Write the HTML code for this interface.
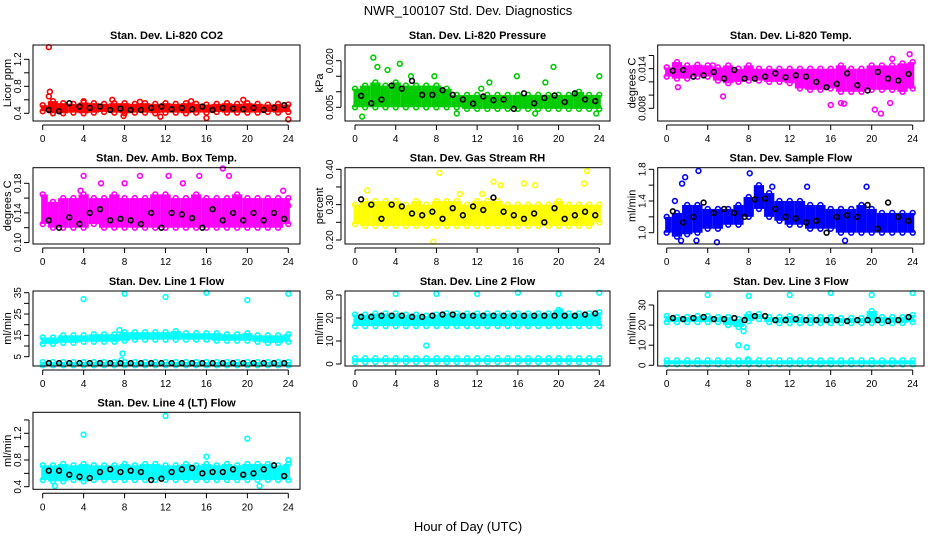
<!DOCTYPE html>
<html><head><meta charset="utf-8"><style>
body{margin:0;background:#fff;}
svg{display:block;font-family:"Liberation Sans",Arial,sans-serif;}
</style></head><body>
<svg id="c" width="936" height="540" viewBox="0 0 936 540">
<text x="468" y="15" text-anchor="middle" font-size="13">NWR_100107  Std. Dev. Diagnostics</text>
<text x="468" y="531" text-anchor="middle" font-size="13">Hour of Day (UTC)</text>
</svg>
<script>
const hours=[0,1,2,3,4,5,6,7,8,9,10,11,12,13,14,15,16,17,18,19,20,21,22,23,24];
const xTicks=[0,4,8,12,16,20,24];
// P1 CO2
const co2Upper=[0.52,0.58,0.55,0.54,0.56,0.55,0.54,0.55,0.55,0.54,0.55,0.54,0.55,0.54,0.55,0.54,0.53,0.54,0.55,0.54,0.55,0.54,0.53,0.54,0.53];
const co2Lower=[0.43,0.40,0.40,0.41,0.40,0.41,0.42,0.41,0.40,0.41,0.41,0.40,0.41,0.41,0.40,0.41,0.41,0.42,0.41,0.41,0.41,0.41,0.42,0.41,0.42];
const co2Black=[0.45,0.43,0.55,0.50,0.48,0.50,0.45,0.47,0.45,0.45,0.48,0.50,0.46,0.48,0.46,0.50,0.45,0.48,0.47,0.46,0.48,0.45,0.48,0.52];
const co2OutH=[0.6,0.7,0.6,4,6.8,9.5,14.5,16,19.6,24,11.5,7.9];
const co2OutV=[1.38,0.72,0.65,0.58,0.6,0.57,0.58,0.33,0.6,0.31,0.35,0.36];
// P2 pressure
const prUpper=[0.011,0.012,0.013,0.012,0.013,0.012,0.012,0.012,0.012,0.011,0.009,0.009,0.009,0.009,0.009,0.009,0.009,0.009,0.009,0.009,0.009,0.009,0.010,0.009,0.009];
const prLower=[0.005,0.005,0.005,0.005,0.005,0.005,0.005,0.005,0.005,0.005,0.005,0.0045,0.0045,0.0045,0.0045,0.0045,0.0045,0.0045,0.0045,0.0045,0.0045,0.0045,0.0045,0.0045,0.0045];
const prBlack=[0.0087,0.0063,0.0075,0.012,0.011,0.0135,0.009,0.009,0.0105,0.009,0.0075,0.0062,0.0085,0.0073,0.0075,0.0045,0.0095,0.0063,0.008,0.0088,0.0067,0.0095,0.0075,0.007];
const prOutH=[0.7,1.8,2.2,3.2,4.4,7.8,12.4,13.2,15.9,17.7,18.7,19.5,24,23.7,10,5.5];
const prOutV=[0.002,0.021,0.018,0.017,0.019,0.015,0.011,0.013,0.015,0.003,0.013,0.018,0.015,0.003,0.003,0.015];
// P3 temp
const tpUpper=[0.0142,0.0150,0.0145,0.0146,0.0145,0.0142,0.0145,0.0140,0.0145,0.0140,0.0140,0.0140,0.0140,0.0140,0.0140,0.0140,0.0140,0.0145,0.0140,0.0140,0.0145,0.0145,0.0145,0.0148,0.0150];
const tpLower=[0.0128,0.0125,0.0125,0.0128,0.0128,0.0122,0.0118,0.0120,0.0122,0.0122,0.0120,0.0120,0.0118,0.0110,0.0108,0.0108,0.0110,0.0105,0.0105,0.0105,0.0108,0.0108,0.0108,0.0105,0.0110];
const tpBlack=[0.0137,0.0138,0.0128,0.0130,0.0135,0.0125,0.0138,0.0125,0.0125,0.0128,0.0133,0.0127,0.0130,0.0128,0.0120,0.0112,0.0117,0.0133,0.0115,0.0107,0.0135,0.0125,0.0122,0.0132];
const tpOutH=[1.1,4.5,5.5,16,17,20.3,20.9,21.8,23.7,22,17.3,12.2];
const tpOutV=[0.0112,0.0145,0.0098,0.0085,0.0088,0.0078,0.0072,0.0088,0.0162,0.0155,0.0087,0.0128];
// P4 amb box temp
const abUpper=[0.165,0.155,0.16,0.16,0.165,0.16,0.16,0.165,0.16,0.16,0.16,0.165,0.165,0.16,0.16,0.165,0.16,0.16,0.16,0.165,0.16,0.16,0.16,0.16,0.16];
const abLower=[0.125,0.12,0.12,0.12,0.12,0.125,0.12,0.12,0.12,0.12,0.12,0.12,0.12,0.12,0.12,0.12,0.12,0.12,0.12,0.12,0.12,0.12,0.12,0.12,0.125];
const abBlack=[0.13,0.12,0.134,0.125,0.14,0.145,0.13,0.132,0.13,0.125,0.14,0.12,0.14,0.138,0.133,0.12,0.145,0.13,0.14,0.13,0.14,0.13,0.14,0.132];
const abOutH=[4,8,9.5,15.3,17.6,18.2,5.7,24,12.3,3.7,13.7,23.5];
const abOutV=[0.19,0.18,0.19,0.19,0.2,0.19,0.18,0.15,0.19,0.17,0.18,0.17];
// P5 RH
const rhUpper=[0.30,0.31,0.31,0.31,0.31,0.30,0.31,0.30,0.31,0.31,0.31,0.30,0.31,0.31,0.31,0.30,0.30,0.30,0.30,0.30,0.31,0.30,0.30,0.30,0.30];
const rhLower=[0.245,0.24,0.24,0.24,0.24,0.24,0.24,0.24,0.24,0.24,0.24,0.24,0.24,0.24,0.24,0.24,0.24,0.24,0.24,0.24,0.24,0.24,0.24,0.24,0.25];
const rhBlack=[0.315,0.30,0.26,0.30,0.295,0.275,0.27,0.28,0.26,0.29,0.27,0.295,0.285,0.32,0.28,0.27,0.26,0.275,0.25,0.29,0.26,0.27,0.28,0.27];
const rhOutH=[8.3,13.6,16.6,17.7,22.8,22.5,7.7,1.2,10.3,14.3,12.5];
const rhOutV=[0.39,0.365,0.36,0.355,0.395,0.36,0.195,0.34,0.33,0.355,0.33];
// P6 sample flow
const sfUpper=[1.2,1.25,1.35,1.35,1.3,1.3,1.3,1.35,1.45,1.6,1.5,1.4,1.4,1.4,1.35,1.35,1.3,1.3,1.3,1.35,1.3,1.25,1.25,1.25,1.25];
const sfLower=[1.0,0.95,0.98,1.0,1.05,1.05,1.1,1.1,1.2,1.3,1.2,1.15,1.1,1.1,1.05,1.05,1.05,1.0,1.0,1.0,1.0,1.0,1.0,1.0,1.0];
const sfBlack=[1.27,1.13,1.2,1.38,1.25,1.3,1.25,1.2,1.42,1.43,1.3,1.2,1.18,1.13,1.15,1.0,1.2,1.22,1.2,1.35,1.05,1.38,1.2,1.15];
const sfOutH=[1.5,1.8,3.1,2.9,4.9,8.1,13.7,17.4,19.5,10.3,1.4,0.8];
const sfOutV=[1.62,1.7,1.78,0.9,0.88,1.75,1.58,0.9,1.58,1.58,0.9,1.4];
// P7 line 1
const l1Upper=[14,14,15,15,15,15.5,15.5,15.5,16.5,16.5,16.5,16.5,16.5,17,16,16,16,16,15.5,15.5,16,15,15,15,15.5];
const l1Lower=[11,11,11.5,11.5,12,12,12,12,12.5,13,13,13,13,13,13,13,13,12.5,12.5,12.5,12.5,12,11.5,11.5,12];
const l1BaseUpper=[2.5,2.5,2.5,2.5,2.5,2.5,2.5,2.5,2.5,2.5,2.5,2.5,2.5,2.5,2.5,2.5,2.5,2.5,2.5,2.5,2.5,2.5,2.5,2.5,2.5];
const l1BaseLower=[1,1,1,1,1,1,1,1,1,1,1,1,1,1,1,1,1,1,1,1,1,1,1,1,1];
const l1Black=[2,2,2,2,2,2,2,2,2,2,2,2,2,2,2,2,2,2,2,2,2,2,2,2];
const l1OutH=[4,8,12,16,20,24,7.5,7.8,7.7];
const l1OutV=[32,34.5,33,35,31.5,34.5,17.5,6.5,3.5];
// P8 line 2
const l2Upper=[21.5,21.5,22,22,22,21.5,21.5,21,21.5,22,22,22,22,22,22,22,22,22,22,22,23.5,22,22,22,22.5];
const l2Lower=[16.5,16.5,16.5,16.5,16.5,16.5,16.5,16.5,16.5,16.5,16.5,16.5,16.5,16.5,16.5,16.5,16.5,16.5,16.5,16.5,16.5,16.5,16.5,16.5,16.5];
const l2BaseUpper=[2.5,2.5,2.5,2.5,2.5,2.5,2.5,2.5,2.5,2.5,2.5,2.5,2.5,2.5,2.5,2.5,2.5,2.5,2.5,2.5,2.5,2.5,2.5,2.5,2.5];
const l2BaseLower=[0.8,0.8,0.8,0.8,0.8,0.8,0.8,0.8,0.8,0.8,0.8,0.8,0.8,0.8,0.8,0.8,0.8,0.8,0.8,0.8,0.8,0.8,0.8,0.8,0.8];
const l2Black=[20.5,20.5,21,21,21,20.5,20.5,21,21.5,21.5,21,21,21,21,21,21,21,21,21,21,21,21,21.5,22];
const l2OutH=[4,8,12,16,20,24,7,20.2];
const l2OutV=[30.5,30.5,30.5,31,30.5,31,8,23];
// P9 line 3
const l3Upper=[24.5,24,24,24.5,24.5,24,24,23,25.5,25.5,24,24,24.5,24,24,24,24,23.5,23.5,23.5,27,24,24,24,25];
const l3Lower=[21.5,21.5,21.5,21.5,21.5,21.5,20,19,22,23,21.5,21,21,21,21,21,21,21,21,21,21,21,21,21,21.5];
const l3BaseUpper=[2.5,2.5,2.5,2.5,2.5,2.5,2.5,2.5,2.5,2.5,2.5,2.5,2.5,2.5,2.5,2.5,2.5,2.5,2.5,2.5,2.5,2.5,2.5,2.5,2.5];
const l3BaseLower=[0.5,0.5,0.5,0.5,0.5,0.5,0.5,0.5,0.5,0.5,0.5,0.5,0.5,0.5,0.5,0.5,0.5,0.5,0.5,0.5,0.5,0.5,0.5,0.5,0.5];
const l3Black=[23.5,23,23.5,24,23,23,23.5,22.5,24.5,24.5,22.5,22.5,23,22.5,22.5,22.5,22.5,22,22.5,22.5,22.5,22,22.5,24];
const l3OutH=[4,8,12,16,20,24,7,7.5,7.8,7.9,7.5];
const l3OutV=[35,34.5,35,36,35,36,10,17,9,3,19];
// P10 line 4
const l4Upper=[0.72,0.72,0.74,0.72,0.74,0.72,0.72,0.72,0.74,0.72,0.74,0.74,0.72,0.72,0.74,0.72,0.74,0.72,0.74,0.72,0.74,0.74,0.74,0.72,0.74];
const l4Lower=[0.5,0.48,0.48,0.5,0.48,0.5,0.5,0.5,0.5,0.5,0.5,0.5,0.5,0.5,0.5,0.5,0.5,0.5,0.5,0.5,0.5,0.5,0.5,0.5,0.5];
const l4Black=[0.64,0.64,0.58,0.55,0.53,0.62,0.66,0.62,0.64,0.62,0.5,0.52,0.62,0.66,0.68,0.6,0.62,0.62,0.66,0.58,0.6,0.66,0.72,0.56];
const l4OutH=[12,4,20,1.2,21.2,16,24];
const l4OutV=[1.46,1.18,1.12,0.41,0.41,0.85,0.8];

const COLS=[{bx0:33,bx1:300,x0:42.7,x24:288.3},{bx0:345,bx1:610,x0:355,x24:599.3},{bx0:657.7,bx1:924,x0:666.7,x24:912.7}];
const ROWS=[{by0:45,by1:121},{by0:167.7,by1:244},{by0:291,by1:366},{by0:412.3,by1:489.3}];
const panels=[
 {name:'co2',title:'Stan. Dev. Li-820 CO2',yl:'Licor ppm',r:0,c:0,color:'#ff0000',v0:0.4,p0:113.3,v1:1.2,p1:59.3,ticks:[0.4,0.6,0.8,1.0,1.2],labels:['0.4','','0.8','','1.2'],up:co2Upper,lo:co2Lower,bk:co2Black,oh:co2OutH,ov:co2OutV},
 {name:'pressure',title:'Stan. Dev. Li-820 Pressure',yl:'kPa',r:0,c:1,color:'#00cc00',v0:0.005,p0:107.3,v1:0.020,p1:60.7,ticks:[0.005,0.010,0.015,0.020],labels:['0.005','','','0.020'],up:prUpper,lo:prLower,bk:prBlack,oh:prOutH,ov:prOutV},
 {name:'temp',title:'Stan. Dev. Li-820 Temp.',yl:'degrees C',r:0,c:2,color:'#ff00ff',v0:0.008,p0:108.3,v1:0.014,p1:68.7,ticks:[0.008,0.010,0.012,0.014,0.016],labels:['0.008','','','0.014',''],up:tpUpper,lo:tpLower,bk:tpBlack,oh:tpOutH,ov:tpOutV},
 {name:'amb-box',title:'Stan. Dev. Amb. Box Temp.',yl:'degrees C',r:1,c:0,color:'#ff00ff',v0:0.10,p0:242.5,v1:0.18,p1:183.3,ticks:[0.10,0.12,0.14,0.16,0.18],labels:['0.10','','0.14','','0.18'],up:abUpper,lo:abLower,bk:abBlack,oh:abOutH,ov:abOutV},
 {name:'rh',title:'Stan. Dev. Gas Stream RH',yl:'percent',r:1,c:1,color:'#ffff00',v0:0.20,p0:240,v1:0.40,p1:169.3,ticks:[0.20,0.25,0.30,0.35,0.40],labels:['0.20','','0.30','','0.40'],up:rhUpper,lo:rhLower,bk:rhBlack,oh:rhOutH,ov:rhOutV},
 {name:'sample-flow',title:'Stan. Dev. Sample Flow',yl:'ml/min',r:1,c:2,color:'#0000ff',v0:1.0,p0:232.7,v1:1.8,p1:169.3,ticks:[1.0,1.2,1.4,1.6,1.8],labels:['1.0','','1.4','','1.8'],up:sfUpper,lo:sfLower,bk:sfBlack,oh:sfOutH,ov:sfOutV},
 {name:'line1',title:'Stan. Dev. Line 1 Flow',yl:'ml/min',r:2,c:0,color:'#00ffff',v0:5,p0:356.7,v1:35,p1:292.7,ticks:[5,10,15,20,25,30,35],labels:['5','','15','','25','','35'],up:l1Upper,lo:l1Lower,bu:l1BaseUpper,bl:l1BaseLower,bk:l1Black,oh:l1OutH,ov:l1OutV},
 {name:'line2',title:'Stan. Dev. Line 2 Flow',yl:'ml/min',r:2,c:1,color:'#00ffff',v0:0,p0:364,v1:30,p1:295,ticks:[0,10,20,30],labels:['0','10','20','30'],up:l2Upper,lo:l2Lower,bu:l2BaseUpper,bl:l2BaseLower,bk:l2Black,oh:l2OutH,ov:l2OutV},
 {name:'line3',title:'Stan. Dev. Line 3 Flow',yl:'ml/min',r:2,c:2,color:'#00ffff',v0:0,p0:365.3,v1:30,p1:305,ticks:[0,10,20,30],labels:['0','10','20','30'],up:l3Upper,lo:l3Lower,bu:l3BaseUpper,bl:l3BaseLower,bk:l3Black,oh:l3OutH,ov:l3OutV},
 {name:'line4',title:'Stan. Dev. Line 4 (LT) Flow',yl:'ml/min',r:3,c:0,color:'#00ffff',v0:0.4,p0:486.7,v1:1.2,p1:433.3,ticks:[0.4,0.6,0.8,1.0,1.2,1.4],labels:['0.4','','0.8','','1.2',''],up:l4Upper,lo:l4Lower,bk:l4Black,oh:l4OutH,ov:l4OutV}
];
const NS='http://www.w3.org/2000/svg';
const svg=document.getElementById('c');
function mk(tag,attrs,parent){const e=document.createElementNS(NS,tag);for(const k in attrs)e.setAttribute(k,attrs[k]);parent.appendChild(e);return e;}
panels.forEach(p=>{
 const C=COLS[p.c],R=ROWS[p.r];
 const xs=h=>C.x0+(C.x24-C.x0)*h/24;
 const ys=v=>p.p0+(p.p1-p.p0)*(v-p.v0)/(p.v1-p.v0);
 const g=mk('g',{},svg);
 
 
 const t=mk('text',{x:(C.bx0+C.bx1)/2,y:R.by0-6,'text-anchor':'middle','font-size':'11','font-weight':'bold'},g);
 t.textContent=p.title;
 
 
 const yl=mk('text',{transform:`translate(${C.bx0-22},${(R.by0+R.by1)/2}) rotate(-90)`,'text-anchor':'middle','font-size':'11'},g);
 yl.textContent=p.yl;
 
 
 const marks=mk('g',{},g);
 
 
 const bands=[[p.lo,p.up]];
 if(p.bu)bands.push([p.bl,p.bu]);
 bands.forEach(([lo,up])=>{
  hours.forEach((h,i)=>{
   const a=Math.max(-0.15,h-0.5),b=Math.min(24.15,h+0.5);
   const y1=ys(up[i]),y2=ys(lo[i]);
   const r=mk('rect',{x:xs(a),y:y1,width:xs(b)-xs(a),height:Math.max(1,y2-y1),fill:p.color},marks);
   
   
   [up[i],lo[i]].forEach(v=>{
    const c=mk('circle',{cx:xs(h),cy:ys(v),r:2.4,fill:'none',stroke:p.color,'stroke-width':1.6},marks);
    
    
   });
  });
 });
 p.oh.forEach((h,i)=>{
  const c=mk('circle',{cx:xs(h),cy:ys(p.ov[i]),r:2.4,fill:'none',stroke:p.color,'stroke-width':1.6},marks);
  
  
 });
 p.bk.forEach((v,i)=>{
  const c=mk('circle',{cx:xs(i+0.6),cy:ys(v),r:2.4,fill:'none',stroke:'#000','stroke-width':1.6},marks);
  
  
 });
 const box=mk('rect',{x:C.bx0,y:R.by0,width:C.bx1-C.bx0,height:R.by1-R.by0,fill:'none',stroke:'#000','stroke-width':1},g);
 
 
 const xa=mk('g',{},g);
 
 
 mk('line',{x1:xs(0),x2:xs(24),y1:R.by1+4,y2:R.by1+4,stroke:'#000'},xa);
 xTicks.forEach(h=>{
  mk('line',{x1:xs(h),x2:xs(h),y1:R.by1+4,y2:R.by1+9,stroke:'#000'},xa);
  const tl=mk('text',{x:xs(h),y:R.by1+21,'text-anchor':'middle','font-size':'10'},xa);
  tl.textContent=h;
  
  
 });
 const ya=mk('g',{},g);
 
 
 mk('line',{x1:C.bx0-4,x2:C.bx0-4,y1:ys(p.ticks[0]),y2:ys(p.ticks[p.ticks.length-1]),stroke:'#000'},ya);
 p.ticks.forEach((v,i)=>{
  const y=ys(v);
  mk('line',{x1:C.bx0-9,x2:C.bx0-4,y1:y,y2:y,stroke:'#000'},ya);
  if(p.labels[i]){
   const tl=mk('text',{transform:`translate(${C.bx0-12},${y}) rotate(-90)`,'text-anchor':'middle','font-size':'10'},ya);
   tl.textContent=p.labels[i];
   
   
  }
 });
});
</script>
</body></html>
